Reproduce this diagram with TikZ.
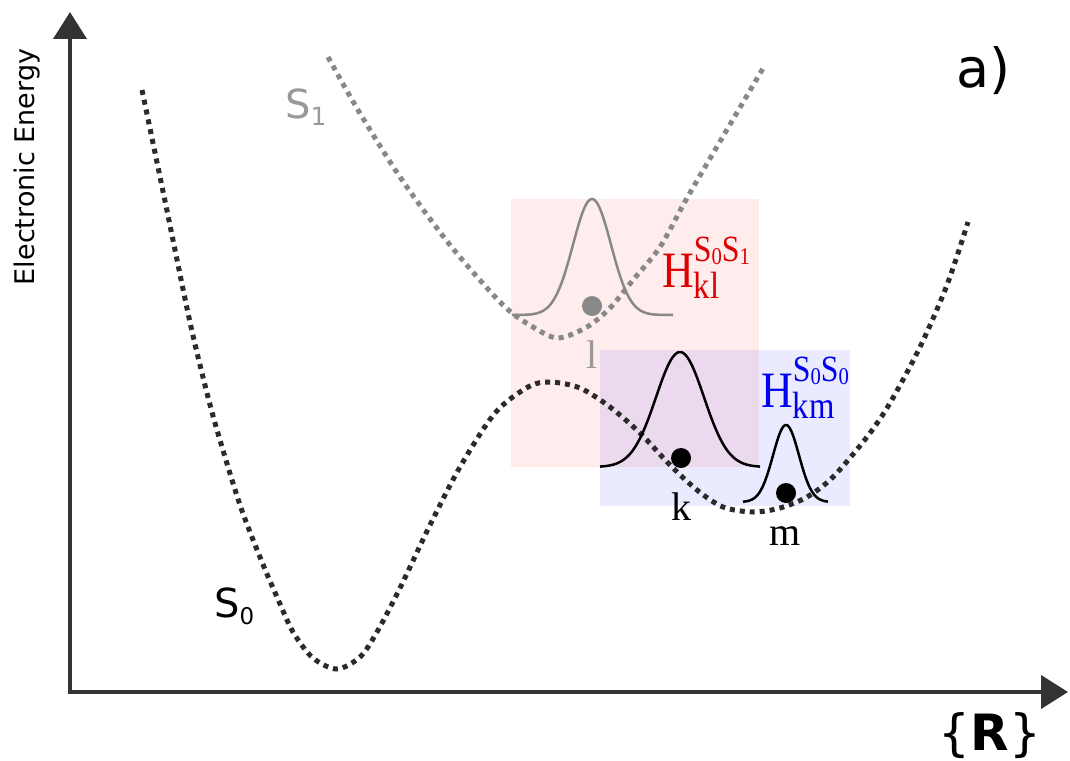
\documentclass[tikz,border=0pt]{standalone}
\usepackage{fontspec}
\setmainfont{Liberation Serif}
\newfontfamily\dv{DejaVu Sans}
\usetikzlibrary{arrows.meta}
\definecolor{curveK}{HTML}{2B2B2B}
\definecolor{curveG}{HTML}{888888}
\definecolor{axisC}{HTML}{333333}
\definecolor{labG}{HTML}{999999}
\definecolor{redH}{HTML}{DD0000}
\definecolor{blueH}{HTML}{0000EE}
\newcommand{\hsup}[2]{\fontsize{37}{37}\selectfont S\raisebox{-3pt}{\fontsize{24}{24}\selectfont #1}S\raisebox{-3pt}{\fontsize{24}{24}\selectfont #2}}
\newcommand{\hterm}[3]{\scalebox{0.86}[1]{H\rlap{\raisebox{26pt}{\hsup{#1}{#2}}}\raisebox{-11pt}{\fontsize{38}{38}\selectfont #3}}}
\tikzset{
  axisline/.style={draw=axisC, line width=4pt, -{Triangle[length=27pt,width=33pt]}},
  pes/.style={line width=5pt, dash pattern=on 5pt off 5pt},
  wave/.style={line width=2.5pt, samples=100, smooth},
  sanslab/.style={inner sep=0pt, font=\dv\fontsize{40}{48}\selectfont},
  seriflab/.style={inner sep=0pt, font=\fontsize{40}{48}\selectfont, anchor=base},
  hlab/.style={inner sep=0pt, anchor=base west, font=\fontsize{51}{60}\selectfont},
}
\begin{document}
\begin{tikzpicture}[x=1pt,y=-1pt]
\useasboundingbox (0,0) rectangle (1070,760);
% coupling regions
\fill[red, fill opacity=0.075] (511,199) rectangle (759,467);
\fill[blue, fill opacity=0.08] (600,350) rectangle (850,506);
% axes
\coordinate (O) at (70,692);
\coordinate (Ox) at (68,692);
\coordinate (ytip) at (70,12);
\coordinate (xtip) at (1068,692);
\draw[axisline] (O) -- (ytip);
\draw[axisline] (Ox) -- (xtip);
% S1 curve
\draw[pes, draw=curveG] plot[smooth] coordinates {(328,57) (358,110) (400,177) (450,245) (503,305) (533,327) (558,338) (587,327) (610,308) (633,280) (660,247) (687,198) (725,133) (765,65)};
% S0 curve
\draw[pes, draw=curveK] plot[smooth] coordinates {(142,90) (165,201) (188,313) (200,365) (215,423) (240,505) (262,562) (277,597) (293,632) (313,658) (337,669) (360,657) (377,632) (400,588) (430,525) (460,467) (495,413) (528,387) (550,382) (580,388) (610,407) (640,433) (670,465) (697,490) (723,507) (753,512) (780,508) (807,497) (833,477) (867,437) (890,403) (920,347) (947,285) (968,222)};
% wavepackets
\draw[wave, draw=curveG, domain=512:673] plot (\x, {315-116*exp(-((\x-592)^2)/722)});
\draw[wave, draw=black, domain=600:760] plot (\x, {467-115*exp(-((\x-680)^2)/1152)});
\draw[wave, draw=black, domain=743:828] plot (\x, {502-77*exp(-((\x-786)^2)/338)});
% centres
\node[circle, fill=curveG, minimum size=20pt, inner sep=0pt] (dl) at (592,306) {};
\node[circle, fill=black, minimum size=20pt, inner sep=0pt] (dk) at (681,458) {};
\node[circle, fill=black, minimum size=20pt, inner sep=0pt] (dm) at (786,493) {};
% labels
\node[seriflab, text=labG] (ll) at (592,368) {l};
\node[seriflab] (lk) at (681,520) {k};
\node[seriflab] (lm) at (785,545) {m};
\node[hlab, text=redH] (hkl) at (662,287) {\hterm{0}{1}{kl}};
\node[hlab, text=blueH] (hkm) at (761,407) {\hterm{0}{0}{km}};
\node[sanslab, anchor=base west, text=labG] (s1) at (285,118) {S\raisebox{-7pt}{\fontsize{25}{25}\selectfont 1}};
\node[sanslab, anchor=base west, text=black] (s0) at (214,617) {S\raisebox{-7pt}{\fontsize{23}{23}\selectfont 0}};
\node[inner sep=0pt, anchor=base west, font=\dv\fontsize{54}{60}\selectfont] (alab) at (956,88) {a)};
\node[inner sep=0pt, anchor=base, font=\dv\fontsize{50}{60}\selectfont] (rlab) at (990,750) {\{{\bfseries R}\}};
\node[inner sep=0pt, rotate=90, anchor=base, font=\dv\fontsize{27}{30}\selectfont] (elab) at (34,167) {Electronic Energy};
\end{tikzpicture}
\end{document}
